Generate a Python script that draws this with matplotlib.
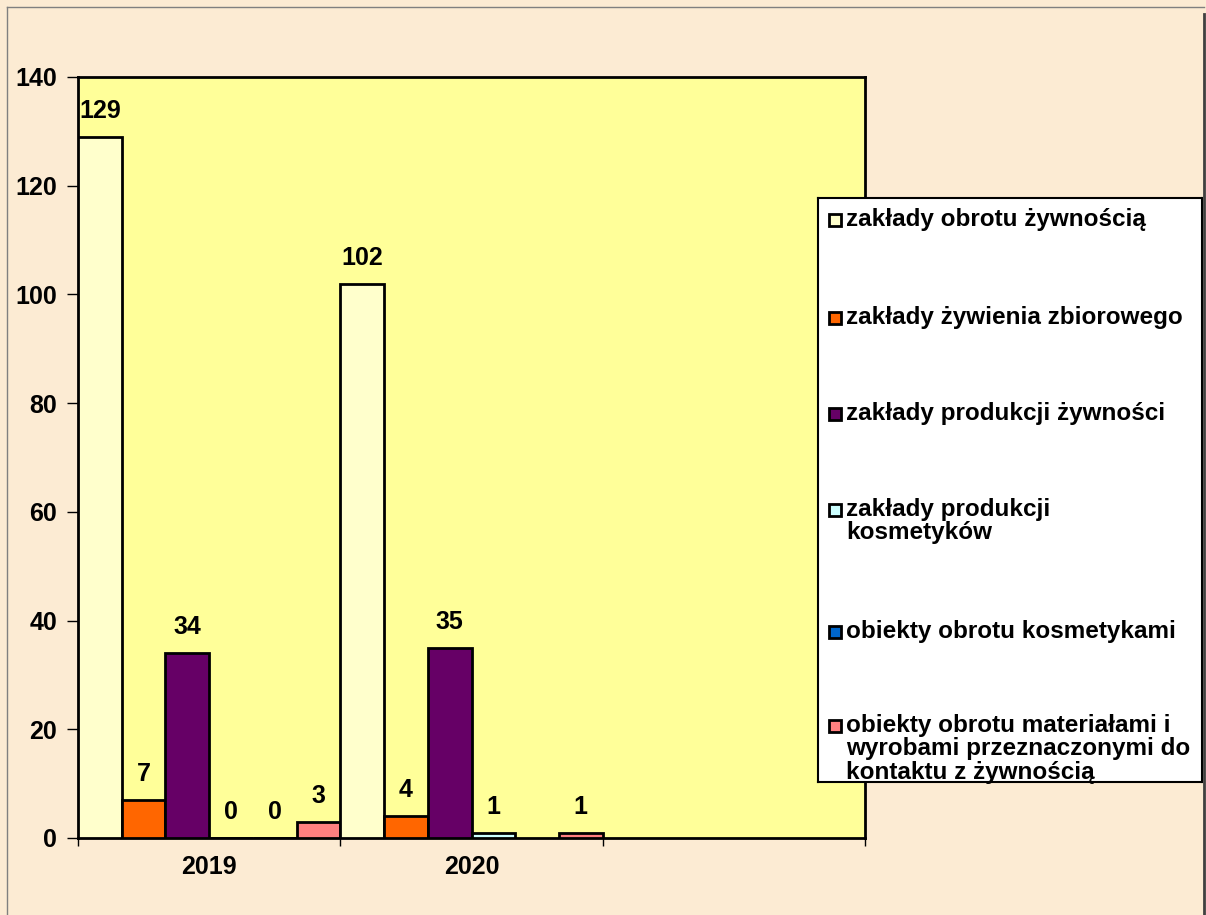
import numpy as np
import matplotlib.pyplot as plt
from matplotlib.patches import Rectangle

plt.rcParams["font.family"] = ["Liberation Sans", "DejaVu Sans"]
plt.rcParams["font.weight"] = "bold"

# Data
years = ["2019", "2020", ""]
series = [
    "zakłady obrotu żywnością",
    "zakłady żywienia zbiorowego",
    "zakłady produkcji żywności",
    "zakłady produkcji\nkosmetyków",
    "obiekty obrotu kosmetykami",
    "obiekty obrotu materiałami i\nwyrobami przeznaczonymi do\nkontaktu z żywnością",
]
values_2019 = [129, 7, 34, 0, 0, 3]
values_2020 = [102, 4, 35, 1, None, 1]
colors = ["#FFFFCC", "#FF6600", "#660066", "#CCFFFF", "#0066CC", "#FF8080"]

BG = "#FCEBD3"
PLOT_BG = "#FFFF99"
FS = 18

fig = plt.figure(figsize=(12.06, 9.15), dpi=100, facecolor=BG)
ax = fig.add_axes([0.0647, 0.0842, 0.6526, 0.8317])
ax.set_facecolor(PLOT_BG)

n = len(series)
w = 1.0 / n
for gi, vals in enumerate([values_2019, values_2020]):
    for j, v in enumerate(vals):
        if v is None:
            continue
        x = gi + j * w
        ax.bar(x, v, width=w, align="edge", color=colors[j],
               edgecolor="black", linewidth=2, zorder=3)
        ax.annotate(str(v), (x + w / 2, v), xytext=(0, 10), textcoords="offset points",
                    ha="center", va="bottom", fontsize=FS, fontweight="bold")

ax.set_xlim(0, 3)
ax.set_ylim(0, 140)
ax.set_yticks(np.arange(0, 141, 20))
ax.set_xticks([0, 1, 2, 3])
ax.set_xticklabels([])
ax.set_xticks([0.5, 1.5], minor=True)
ax.set_xticklabels(years[:2], minor=True)
ax.tick_params(axis="x", which="minor", length=0, pad=12, labelsize=FS)
ax.tick_params(axis="x", which="major", length=6, width=1, direction="out")
ax.tick_params(axis="y", length=8, width=1, direction="out", labelsize=FS, pad=7)
for lab in ax.get_yticklabels() + ax.get_xticklabels(minor=True):
    lab.set_fontweight("bold")
for s in ax.spines.values():
    s.set_linewidth(2)

# Legend box drawn by hand
lax = fig.add_axes([0.6783, 0.1454, 0.3184, 0.6383])
lax.set_xlim(818, 1202)
lax.set_ylim(782, 198)
lax.set_xticks([])
lax.set_yticks([])
lax.set_facecolor("white")
for s in lax.spines.values():
    s.set_linewidth(1.5)
entry_y = [220, 318, 414, 510, 632, 726]
for label, c, y in zip(series, colors, entry_y):
    lax.add_patch(Rectangle((829, y - 6), 12, 12, facecolor=c, edgecolor="black", linewidth=2))
    lax.text(846, y - 12, label, ha="left", va="top", fontsize=17.5,
             fontweight="bold", linespacing=1.02)

# Outer border
fig.add_artist(plt.Line2D([0.006, 0.006], [0, 0.992], color="#808080", linewidth=1))
fig.add_artist(plt.Line2D([0.006, 0.998], [0.992, 0.992], color="#808080", linewidth=1))
fig.add_artist(plt.Line2D([0.998, 0.998], [0, 0.985], color="#404040", linewidth=2))

fig.savefig("out.png", dpi=100, facecolor=BG)
